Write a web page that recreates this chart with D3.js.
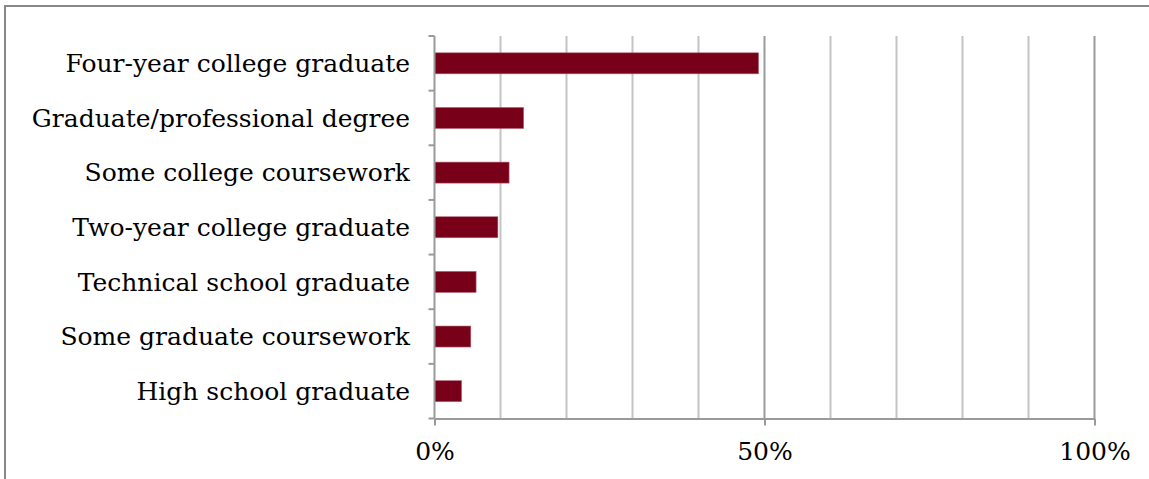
<!DOCTYPE html>
<html><head><meta charset="utf-8">
<script src="https://cdn.jsdelivr.net/npm/d3@7"></script>
<style>body{margin:0;background:#fff}svg{display:block}</style>
</head><body>
<svg id="chart" width="1149" height="479"></svg>
<script>
const categories = ["Four-year college graduate","Graduate/professional degree","Some college coursework","Two-year college graduate","Technical school graduate","Some graduate coursework","High school graduate"];
const values = [0.491, 0.135, 0.113, 0.096, 0.063, 0.055, 0.041];
const tickValues = [0, 0.5, 1];
const tickLabels = ["0%","50%","100%"];
const gridValues = [0.1,0.2,0.3,0.4,0.5,0.6,0.7,0.8,0.9,1.0];

(function(){
const svg = d3.select("#chart");
const font = "DejaVu Serif";
const fs = 25;
svg.append("rect").attr("x",5).attr("y",6).attr("width",1160).attr("height",490)
  .attr("fill","#fff").attr("stroke","#888").attr("stroke-width",2);

const pl = 434.5, pr = 1094.5, pt = 36, pb = 418.5;
const x = d3.scaleLinear().domain([0,1]).range([pl,pr]);
const yb = d3.scaleBand().domain(categories).range([pt,pb]);

svg.append("g").selectAll("line").data(gridValues).join("line")
  .attr("x1",d=>x(d)).attr("x2",d=>x(d)).attr("y1",pt).attr("y2",pb)
  .attr("stroke",d=>(d===0.5||d===1)?"#9a9a9a":"#c4c4c4").attr("stroke-width",2);

svg.append("g").selectAll("rect").data(values).join("rect")
  .attr("x",x(0)).attr("y",(d,i)=>yb(categories[i])+yb.bandwidth()/2-10.5)
  .attr("width",d=>x(d)-x(0)).attr("height",21)
  .attr("fill","#790019").attr("stroke","#b06070").attr("stroke-width",0.6);

const xAxis = d3.axisBottom(x).tickValues(tickValues).tickFormat((d,i)=>tickLabels[i]).tickSizeInner(7).tickSizeOuter(0).tickPadding(17);
const gx = svg.append("g").attr("transform",`translate(0,${pb})`).call(xAxis);
gx.select(".domain").attr("stroke","#9a9a9a").attr("stroke-width",2);
gx.selectAll(".tick line").attr("stroke","#9a9a9a").attr("stroke-width",2);
gx.selectAll("text").attr("font-family",font).attr("font-size",fs).attr("fill","#000");

svg.append("line").attr("x1",pl).attr("x2",pl).attr("y1",pt).attr("y2",pb).attr("stroke","#9a9a9a").attr("stroke-width",2);
const bounds = categories.map(c=>yb(c)).concat([pb]);
svg.append("g").selectAll("line").data(bounds).join("line")
  .attr("x1",pl-6).attr("x2",pl).attr("y1",d=>d).attr("y2",d=>d)
  .attr("stroke","#9a9a9a").attr("stroke-width",2);

svg.append("g").selectAll("text").data(categories).join("text")
  .attr("x",410).attr("y",d=>yb(d)+yb.bandwidth()/2).attr("dy","0.35em")
  .attr("text-anchor","end").attr("font-family",font).attr("font-size",fs).attr("fill","#000")
  .text(d=>d);
})();
</script>
</body></html>
